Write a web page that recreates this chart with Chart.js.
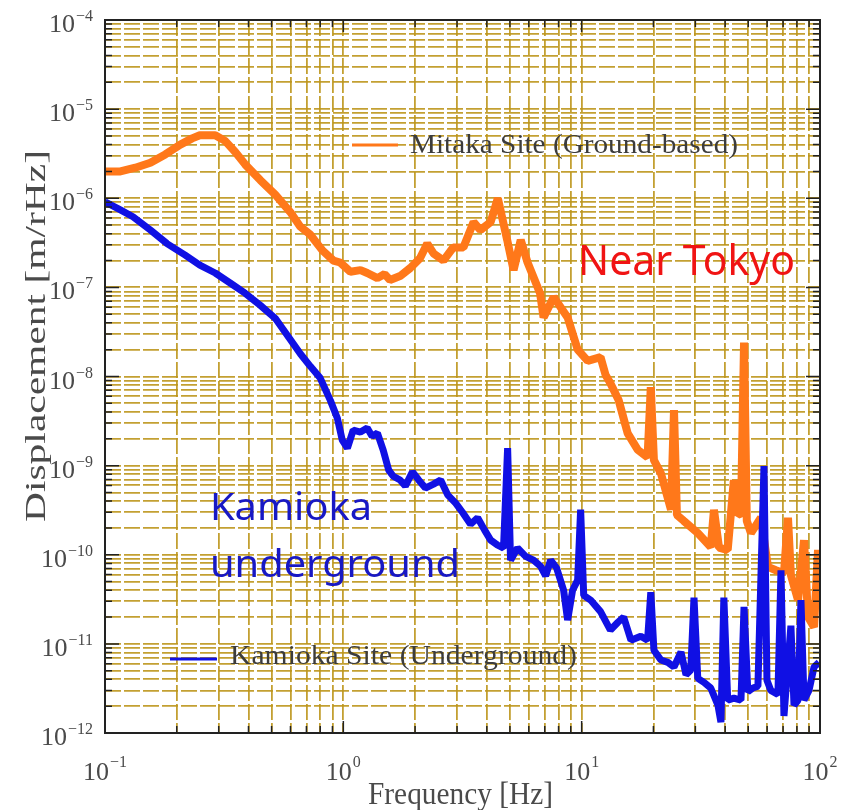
<!DOCTYPE html>
<html>
<head>
<meta charset="utf-8">
<script src="https://cdn.jsdelivr.net/npm/chart.js@4.4.0/dist/chart.umd.min.js"></script>
<style>
  html, body { margin: 0; background: #fff; }
  #wrap { width: 848px; height: 810px; position: relative; }
</style>
</head>
<body>
<div id="wrap"><canvas id="c"></canvas></div>
<script>
// axis decades (powers of ten) and the 1..9 steps inside each decade
const freqDecades = [-1, 0, 1, 2];
const dispDecades = [-12, -11, -10, -9, -8, -7, -6, -5, -4];
const decadeSteps = [1, 2, 3, 4, 5, 6, 7, 8, 9];

// Mitaka (ground-based) spectrum
const mitakaFreq = [0.1, 0.116, 0.134, 0.155, 0.179, 0.207, 0.232, 0.25, 0.29, 0.319,
  0.352, 0.387, 0.448, 0.518, 0.599, 0.66, 0.727, 0.817, 0.908, 0.97,
  1.07, 1.18, 1.26, 1.39, 1.49, 1.57, 1.73, 1.91, 2.10, 2.25,
  2.39, 2.63, 2.89, 3.19, 3.52, 3.76, 4.15, 4.45, 4.87, 5.18,
  5.55, 5.93, 6.69, 6.92, 7.63, 8.73, 9.62, 10.6, 12.0, 12.6,
  13.2, 14.3, 15.6, 17.2, 18.9, 19.5, 20.1, 21.5, 23.7, 24.4,
  25.1, 26.8, 30.7, 34.8, 35.9, 37.7, 41.0, 43.5, 45.2, 46.6,
  48.0, 49.3, 51.3, 56.5, 60.5, 65.3, 70.6, 73.4, 75.5, 80.9,
  85.7, 89.1, 94.4, 98.1, 100];
const mitakaDisp = [2.0e-6, 2.0e-6, 2.2e-6, 2.5e-6, 3.1e-6, 4.0e-6, 4.7e-6, 5.1e-6, 5.1e-6, 4.4e-6,
  3.3e-6, 2.4e-6, 1.6e-6, 1.1e-6, 7.0e-7, 4.8e-7, 3.9e-7, 2.6e-7, 2.0e-7, 1.9e-7,
  1.5e-7, 1.56e-7, 1.45e-7, 1.27e-7, 1.41e-7, 1.21e-7, 1.34e-7, 1.65e-7, 2.13e-7, 3.1e-7,
  2.4e-7, 2.0e-7, 2.8e-7, 2.8e-7, 5.4e-7, 4.4e-7, 5.4e-7, 1.0e-6, 3.4e-7, 1.56e-7,
  3.4e-7, 1.9e-7, 8.6e-8, 4.6e-8, 7.8e-8, 4.6e-8, 2.0e-8, 1.5e-8, 1.65e-8, 1.04e-8,
  8.4e-9, 5.4e-9, 2.3e-9, 1.5e-9, 1.24e-9, 7.6e-9, 1.15e-9, 8.2e-10, 3.2e-10, 4.2e-9,
  2.8e-10, 2.4e-10, 1.75e-10, 1.22e-10, 3.2e-10, 1.2e-10, 1.13e-10, 6.9e-10, 2.8e-10, 2.9e-10,
  2.4e-8, 2.4e-10, 1.75e-10, 2.6e-10, 7.3e-11, 6.7e-11, 6.2e-11, 2.6e-10, 5.9e-11, 3.1e-11,
  1.46e-10, 2.0e-11, 1.54e-11, 1.13e-10, 3.1e-11];

// Kamioka (underground) spectrum
const kamiokaFreq = [0.1, 0.116, 0.131, 0.155, 0.182, 0.217, 0.25, 0.29, 0.335, 0.387,
  0.448, 0.518, 0.599, 0.66, 0.727, 0.80, 0.882, 0.944, 0.99, 1.04, 1.10,
  1.18, 1.26, 1.32, 1.39, 1.47, 1.55, 1.62, 1.73, 1.82, 1.95,
  2.07, 2.21, 2.39, 2.56, 2.74, 2.96, 3.16, 3.42, 3.66, 3.91,
  4.15, 4.44, 4.70, 4.89, 5.03, 5.38, 5.82, 6.28, 6.73, 7.06,
  7.41, 7.85, 8.40, 8.73, 9.16, 9.62, 9.9, 10.2, 10.9, 12.0,
  13.2, 14.2, 15.0, 16.1, 17.7, 18.9, 19.5, 20.1, 21.5, 23.0,
  24.4, 26.1, 27.4, 28.7, 29.6, 30.7, 32.6, 34.8, 37.3, 38.4,
  39.5, 41.0, 43.5, 46.6, 48.0, 49.8, 52.3, 54.9, 58.2, 59.9,
  62.2, 66.6, 68.6, 70.6, 75.5, 77.8, 80.9, 83.2, 85.7, 89.9,
  94.4, 99.1];
const kamiokaDisp = [9.1e-7, 7.4e-7, 6.2e-7, 4.4e-7, 3.1e-7, 2.3e-7, 1.78e-7, 1.45e-7, 1.12e-7, 8.6e-8,
  6.3e-8, 4.5e-8, 2.6e-8, 1.8e-8, 1.3e-8, 9.6e-9, 5.4e-9, 3.4e-9, 1.93e-9, 1.57e-9, 2.5e-9,
  2.38e-9, 2.64e-9, 2.14e-9, 2.32e-9, 1.49e-9, 8.9e-10, 7.6e-10, 6.9e-10, 5.9e-10, 8.5e-10,
  6.9e-10, 5.6e-10, 6.2e-10, 6.9e-10, 4.7e-10, 3.8e-10, 3.0e-10, 2.2e-10, 2.6e-10, 1.9e-10,
  1.46e-10, 1.28e-10, 1.19e-10, 1.57e-9, 8.7e-11, 1.19e-10, 9.6e-11, 8.7e-11, 7.4e-11, 5.8e-11,
  8.7e-11, 7.1e-11, 4.0e-11, 1.85e-11, 4.0e-11, 5.2e-11, 3.2e-10, 3.5e-11, 3.1e-11, 2.3e-11,
  1.43e-11, 1.75e-11, 2.0e-11, 1.1e-11, 1.22e-11, 1.1e-11, 3.8e-11, 8.5e-12, 6.6e-12, 6.2e-12,
  5.5e-12, 8.1e-12, 4.5e-12, 5.1e-12, 3.3e-11, 4.1e-12, 3.7e-12, 3.2e-12, 2.05e-12, 1.32e-12,
  3.3e-11, 2.33e-12, 2.46e-12, 2.33e-12, 2.6e-11, 2.9e-12, 3.2e-12, 3.35e-12, 9.9e-10, 3.9e-12,
  3.0e-12, 2.7e-12, 6.7e-11, 1.55e-12, 1.6e-11, 2.05e-12, 2.33e-12, 3.1e-11, 2.33e-12, 3.0e-12,
  5.5e-12, 6.2e-12];

const seriesLabels = ['Mitaka Site (Ground-based)', 'Kamioka Site (Underground)'];
const xTitle = 'Frequency [Hz]';
const yTitle = 'Displacement [m/rHz]';
const notes = ['Near Tokyo', 'Kamioka', 'underground'];

const ORANGE = '#ff781a', BLUE = '#1010e4', GRID = 'rgba(188,150,28,0.9)';
const SERIF = '"Liberation Serif", "DejaVu Serif", serif';
const SANS = '"Noto Sans", "Open Sans", sans-serif';

function logTicks(decades){
  const out = [];
  decades.forEach((d, i) => {
    decadeSteps.forEach(m => {
      if (i === decades.length - 1 && m > 1) return;
      out.push({ value: m * Math.pow(10, d), major: m === 1 });
    });
  });
  return out;
}

function pairs(xs, ys){ return xs.map((f, i) => ({ x: f, y: ys[i] })); }

function expText(d){ return d < 0 ? '\u2212' + Math.abs(d) : String(d); }

// draw text squeezed/stretched to a given width
function fitText(ctx, text, x, y, width, font, color){
  ctx.save();
  ctx.font = font; ctx.fillStyle = color;
  ctx.textAlign = 'left'; ctx.textBaseline = 'alphabetic';
  const w = ctx.measureText(text).width;
  ctx.translate(x, y); ctx.scale(width / w, 1);
  ctx.fillText(text, 0, 0);
  ctx.restore();
}

function axisOpts(min, max, decades){
  return {
    type: 'logarithmic', min, max,
    afterBuildTicks: s => { s.ticks = logTicks(decades); },
    ticks: { display: false, autoSkip: false },
    grid: { color: GRID, lineWidth: 1.8, drawTicks: false },
    border: { display: false, dash: [16, 3] }
  };
}

const decor = {
  id: 'decor',
  afterDatasetsDraw(chart){
    const { ctx, chartArea: a, scales: { x, y } } = chart;
    ctx.save();
    ctx.strokeStyle = '#222'; ctx.lineWidth = 1.5;
    ctx.beginPath();
    y.ticks.forEach(t => {
      const py = y.getPixelForValue(t.value);
      const len = t.major ? 14 : 7;
      ctx.moveTo(a.left, py); ctx.lineTo(a.left + len, py);
      ctx.moveTo(a.right, py); ctx.lineTo(a.right - len, py);
    });
    x.ticks.forEach(t => {
      const px = x.getPixelForValue(t.value);
      const len = t.major ? 12 : 7;
      ctx.moveTo(px, a.bottom); ctx.lineTo(px, a.bottom - len);
      ctx.moveTo(px, a.top); ctx.lineTo(px, a.top + len);
    });
    ctx.stroke();
    ctx.lineWidth = 2;
    ctx.strokeRect(a.left, a.top, a.right - a.left, a.bottom - a.top);
    ctx.restore();
  },
  afterDraw(chart){
    const { ctx, chartArea: a, scales: { x, y } } = chart;
    const grey = '#4a4a4a';
    ctx.save();
    ctx.fillStyle = grey; ctx.textBaseline = 'alphabetic';

    // y tick labels: 10 with raised exponent
    dispDecades.forEach(d => {
      const py = y.getPixelForValue(Math.pow(10, d));
      ctx.font = '16px ' + SERIF;
      const e = expText(d), ew = ctx.measureText(e).width;
      ctx.textAlign = 'left';
      ctx.fillText(e, 93 - ew, py + 1);
      ctx.font = '26px ' + SERIF;
      ctx.textAlign = 'right';
      ctx.fillText('10', 92 - ew, py + 12);
    });

    // x tick labels
    freqDecades.forEach(d => {
      const px = x.getPixelForValue(Math.pow(10, d));
      ctx.font = '16px ' + SERIF;
      const e = expText(d), ew = ctx.measureText(e).width;
      ctx.font = '26px ' + SERIF;
      const bw = ctx.measureText('10').width;
      const left = px - (bw + ew + 1) / 2;
      ctx.textAlign = 'left';
      ctx.fillText('10', left, a.bottom + 47);
      ctx.font = '16px ' + SERIF;
      ctx.fillText(e, left + bw + 1, a.bottom + 34);
    });
    ctx.restore();

    // axis titles
    fitText(ctx, xTitle, 368, 804, 185, '32px ' + SERIF, grey);
    ctx.save();
    ctx.translate(45, 522); ctx.rotate(-Math.PI / 2);
    fitText(ctx, yTitle, 0, 0, 372, '29px ' + SERIF, grey);
    ctx.restore();

    // legend entries placed inside the plot
    const ds = chart.data.datasets;
    const legend = [
      { d: ds[1], x0: 352, x1: 398, ly: 145, tx: 410, ty: 153, tw: 328 },
      { d: ds[0], x0: 170, x1: 217, ly: 659, tx: 230, ty: 664, tw: 347 }
    ];
    legend.forEach(l => {
      ctx.save();
      ctx.strokeStyle = l.d.borderColor; ctx.lineWidth = 3;
      ctx.beginPath(); ctx.moveTo(l.x0, l.ly); ctx.lineTo(l.x1, l.ly); ctx.stroke();
      ctx.restore();
      fitText(ctx, l.d.label, l.tx, l.ty, l.tw, '27px ' + SERIF, '#3c3c3c');
    });

    // annotations
    fitText(ctx, notes[0], 578, 275, 217, '41px ' + SANS, '#f01414');
    fitText(ctx, notes[1], 210, 520, 162, '39px ' + SANS, '#1818c4');
    fitText(ctx, notes[2], 210, 577, 250, '39px ' + SANS, '#1818c4');
  }
};

document.addEventListener('DOMContentLoaded', function(){
  new Chart(document.getElementById('c'), {
    type: 'line',
    data: {
      datasets: [
        { label: seriesLabels[1], data: pairs(kamiokaFreq, kamiokaDisp), borderColor: BLUE,
          borderWidth: 7, pointRadius: 0, tension: 0, borderJoinStyle: 'bevel' },
        { label: seriesLabels[0], data: pairs(mitakaFreq, mitakaDisp), borderColor: ORANGE,
          borderWidth: 8, pointRadius: 0, tension: 0, borderJoinStyle: 'bevel' }
      ]
    },
    options: {
      responsive: true,
      maintainAspectRatio: false,
      animation: false,
      layout: { padding: { left: 105, right: 28, top: 20, bottom: 77 } },
      plugins: { legend: { display: false }, tooltip: { enabled: false } },
      scales: {
        x: axisOpts(0.1, 100, freqDecades),
        y: axisOpts(1e-12, 1e-4, dispDecades)
      }
    },
    plugins: [decor]
  });
});
</script>
</body>
</html>
